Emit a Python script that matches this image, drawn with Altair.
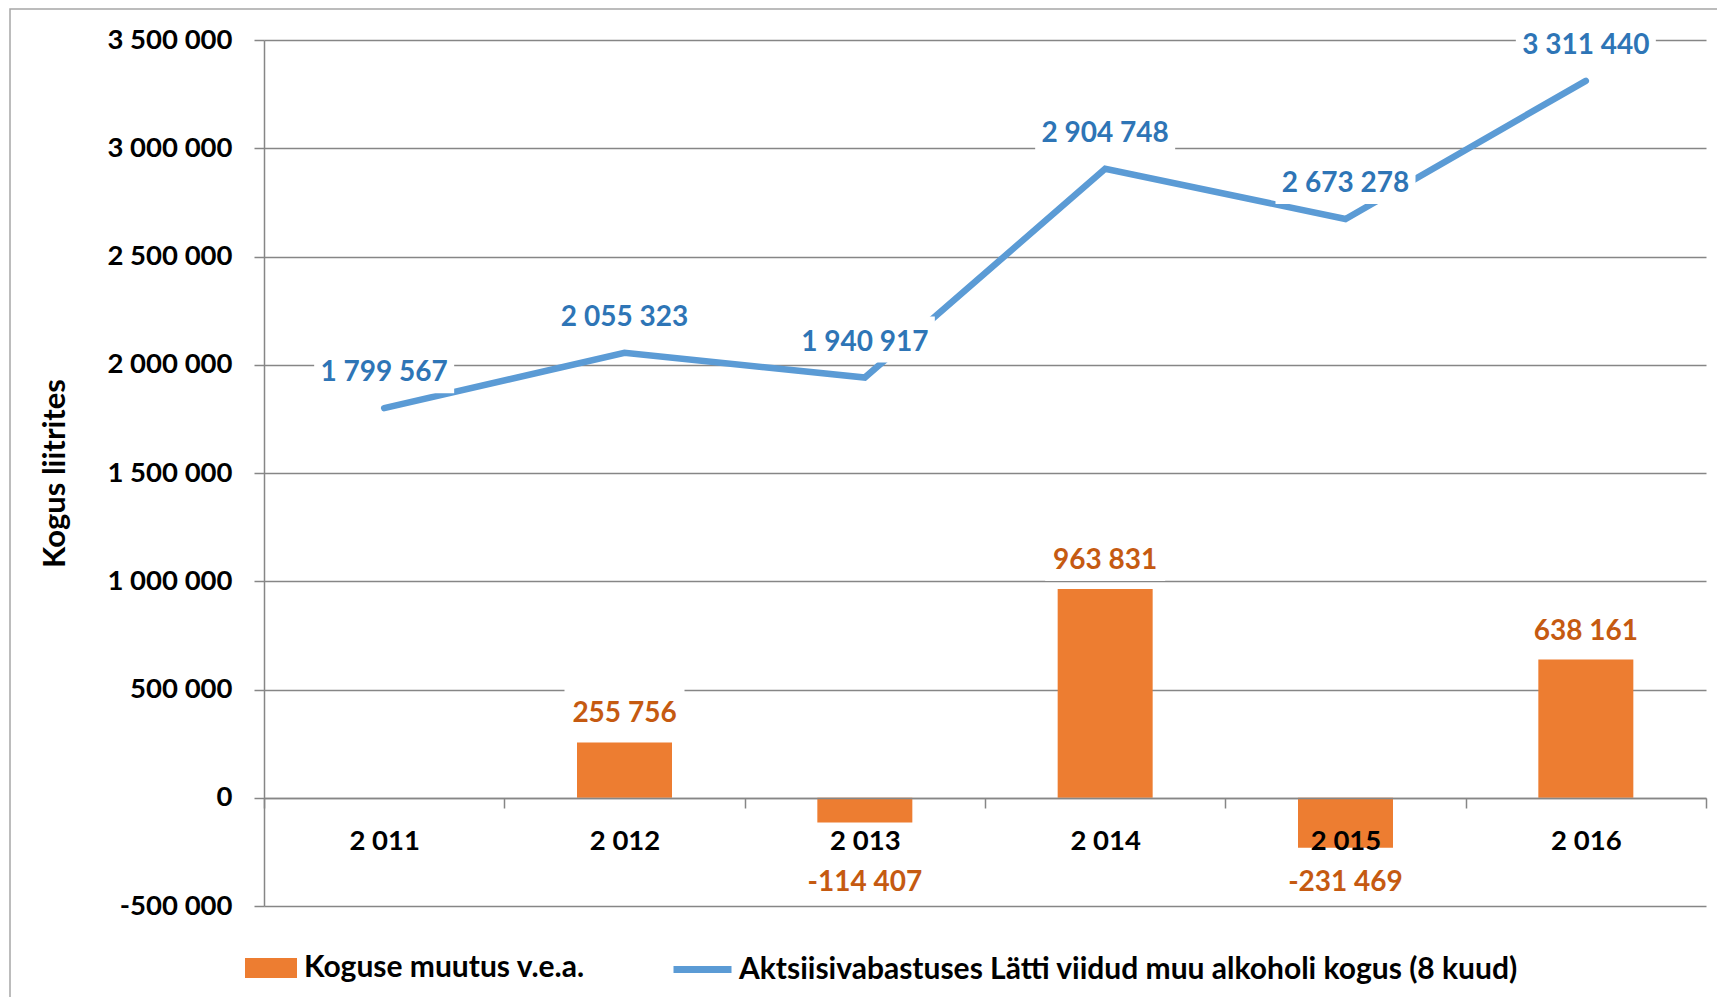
import altair as alt
import pandas as pd

years = [2011, 2012, 2013, 2014, 2015, 2016]
total_liters = [1799567, 2055323, 1940917, 2904748, 2673278, 3311440]
change_liters = [None, 255756, -114407, 963831, -231469, 638161]
y_tick_values = [-500000, 0, 500000, 1000000, 1500000, 2000000, 2500000, 3000000, 3500000]

BAR_NAME = "Koguse muutus v.e.a."
LINE_NAME = "Aktsiisivabastuses Lätti viidud muu alkoholi kogus (8 kuud)"
Y_TITLE = "Kogus liitrites"

ORANGE = "#ED7D31"
ORANGE_TXT = "#C55A11"
BLUE = "#5B9BD5"
BLUE_TXT = "#2E75B6"
GRID = "#868686"
FONT = "Lato"
TICK_FS = 27.5
DATA_FS = 28
LEGEND_FS = 30


def fmt(v):
    return f"{int(v):,}".replace(",", " ")


df = pd.DataFrame({
    "year": years,
    "total": total_liters,
    "change": change_liters,
    "total_label": [fmt(v) for v in total_liters],
    "change_label": [fmt(v) if v is not None else "" for v in change_liters],
    "bar_series": [BAR_NAME] * len(years),
    "line_series": [LINE_NAME] * len(years),
})

x_axis = alt.Axis(
    title=None, offset=-108, zindex=1, grid=False,
    domainColor=GRID, domainWidth=1.5,
    tickBand="extent", tickColor=GRID, tickSize=10, tickWidth=1.5,
    labelFont=FONT, labelFontSize=TICK_FS, labelFontWeight="bold", labelColor="black",
    labelPadding=19, labelAngle=0,
    labelExpr="substring(datum.label, 0, 1) + ' ' + substring(datum.label, 1)",
)
x_enc = alt.X("year:O", scale=alt.Scale(type="band", paddingInner=0, paddingOuter=0), axis=x_axis)

y_scale = alt.Scale(domain=[-500000, 3500000], nice=False, zero=False)
y_axis = alt.Axis(
    title=Y_TITLE, values=y_tick_values,
    titleFont=FONT, titleFontSize=31, titleFontWeight="bold", titleColor="black",
    titleAngle=270, titleX=-209, titleY=433, titleAlign="center", titleBaseline="middle",
    grid=True, gridColor=GRID, gridWidth=1.5,
    domainColor=GRID, domainWidth=1.5,
    tickColor=GRID, tickSize=10, tickWidth=1.5,
    labelFont=FONT, labelFontSize=TICK_FS, labelFontWeight="bold", labelColor="black",
    labelPadding=22,
    labelExpr="replace(replace(format(datum.value, ','), regexp(',', 'g'), ' '), '\u2212', '-')",
)

base = alt.Chart(df)

box_calc = dict(
    bw="length(datum.lab) * 10 + 50",
)
shape_expr = ("'M-1,' + (-46/datum.bw) + 'L1,' + (-46/datum.bw) + 'L1,' + (46/datum.bw)"
              " + 'L-1,' + (46/datum.bw) + 'Z'")

frame = base.mark_rect(fillOpacity=0, stroke="#A6A6A6", strokeWidth=1.5).encode(
    x=alt.value(-254), x2=alt.value(1600), y=alt.value(-31), y2=alt.value(1100)
).transform_filter("datum.year == 2011")

bars = base.mark_bar(size=95).encode(
    x=x_enc,
    y=alt.Y("change:Q", scale=y_scale, axis=y_axis),
    color=alt.Color(
        "bar_series:N",
        scale=alt.Scale(domain=[BAR_NAME], range=[ORANGE]),
        legend=alt.Legend(
            orient="none", legendX=-19, legendY=902, direction="horizontal", title=None,
            padding=0, labelOffset=7, labelLimit=2000,
            labelFont=FONT, labelFontSize=LEGEND_FS, labelFontWeight="bold", labelColor="black",
            symbolType="M-1,-0.385L1,-0.385L1,0.385L-1,0.385Z", symbolSize=2704,
            symbolStrokeWidth=0, symbolOpacity=1,
        ),
    ),
).transform_filter("datum.change != null")

line = base.mark_line(strokeWidth=6.5, strokeCap="round", strokeJoin="miter").encode(
    x=x_enc,
    y=alt.Y("total:Q", scale=y_scale, axis=y_axis),
    color=alt.Color(
        "line_series:N",
        scale=alt.Scale(domain=[LINE_NAME], range=[BLUE]),
        legend=alt.Legend(
            orient="none", legendX=406, legendY=897, direction="horizontal", title=None,
            padding=0, labelOffset=4, labelLimit=2000,
            labelFont=FONT, labelFontSize=LEGEND_FS, labelFontWeight="bold", labelColor="black",
            symbolType="stroke", symbolSize=3364, symbolStrokeWidth=7,
        ),
    ),
)

blue_boxes = base.mark_point(filled=True, color="white", opacity=1, strokeWidth=0, yOffset=-38).encode(
    x=x_enc,
    y=alt.Y("total:Q", scale=y_scale, axis=y_axis),
    shape=alt.Shape("shp:N", scale=None),
    size=alt.Size("bsz:Q", scale=None),
).transform_calculate(lab="datum.total_label").transform_calculate(**box_calc).transform_calculate(
    shp=shape_expr, bsz="datum.bw * datum.bw")

blue_text = base.mark_text(font=FONT, fontSize=DATA_FS, fontWeight="bold", color=BLUE_TXT,
                           yOffset=-35, baseline="middle").encode(
    x=x_enc,
    y=alt.Y("total:Q", scale=y_scale, axis=y_axis),
    text="total_label:N",
)

pos = base.transform_filter("datum.change > 0").transform_calculate(lab_y="datum.change")
neg = base.transform_filter("datum.change < 0").transform_calculate(lab_y="-395000")


def bar_label_layers(src, off):
    boxes = src.mark_point(filled=True, color="white", opacity=1, strokeWidth=0, yOffset=off - 3).encode(
        x=x_enc,
        y=alt.Y("lab_y:Q", scale=y_scale, axis=y_axis),
        shape=alt.Shape("shp:N", scale=None),
        size=alt.Size("bsz:Q", scale=None),
    ).transform_calculate(lab="datum.change_label").transform_calculate(**box_calc).transform_calculate(
        shp=shape_expr, bsz="datum.bw * datum.bw")
    text = src.mark_text(font=FONT, fontSize=DATA_FS, fontWeight="bold", color=ORANGE_TXT,
                         yOffset=off, baseline="middle").encode(
        x=x_enc,
        y=alt.Y("lab_y:Q", scale=y_scale, axis=y_axis),
        text="change_label:N",
    )
    return boxes, text


pb, pt = bar_label_layers(pos, -28)
nb, nt = bar_label_layers(neg, 0)

chart = alt.layer(
    frame, bars, line, blue_boxes, blue_text, pb, pt, nb, nt
).resolve_scale(
    color="independent"
).properties(
    width=1442, height=866,
    autosize=alt.AutoSizeParams(type="none"),
    padding={"left": 256, "top": 32, "right": 11, "bottom": 91},
    background="white",
).configure_view(stroke=None)

chart.save("out.html", embed_options={"renderer": "svg", "actions": False})
